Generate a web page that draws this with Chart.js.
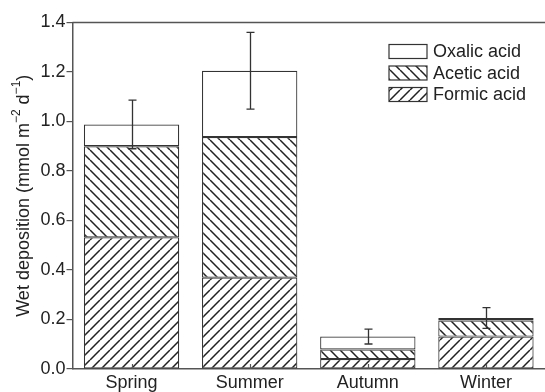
<!DOCTYPE html>
<html>
<head>
<meta charset="utf-8">
<script src="https://cdn.jsdelivr.net/npm/chart.js@4.4.1/dist/chart.umd.min.js"></script>
<style>
  html, body { margin: 0; padding: 0; background: #fff; overflow: hidden; }
  #wrap { width: 545px; height: 392px; position: relative; }
</style>
</head>
<body>
<div id="wrap"><canvas id="chart" width="545" height="392"></canvas></div>
<script>
// Seasonal wet deposition of organic acids (mmol m-2 d-1)
const seasons = ['Spring', 'Summer', 'Autumn', 'Winter'];
const formicAcid = [0.532, 0.369, 0.040, 0.131];
const aceticAcid = [0.368, 0.568, 0.039, 0.065];
const oxalicAcid = [0.088, 0.268, 0.052, 0.010];
// Error on the total deposition of each season
const totalError = [0.098, 0.155, 0.030, 0.042];
const yTicks = [0.0, 0.2, 0.4, 0.6, 0.8, 1.0, 1.2, 1.4];

const FONT = '"Liberation Sans", Arial, Helvetica, sans-serif';
const INK = '#222';
const AXIS = '#555';

// Diagonal hatch fill: '/' or '\'
function hatch(dir) {
  const s = 10;
  const c = document.createElement('canvas');
  c.width = s; c.height = s;
  const g = c.getContext('2d');
  g.fillStyle = '#fff';
  g.fillRect(0, 0, s, s);
  g.strokeStyle = '#222';
  g.lineWidth = 1.5;
  g.beginPath();
  for (let k = -1; k <= 1; k++) {
    if (dir === '/') { g.moveTo(k * s, s); g.lineTo(k * s + s, 0); }
    else { g.moveTo(k * s, 0); g.lineTo(k * s + s, s); }
  }
  g.stroke();
  return g.createPattern(c, 'repeat');
}

const ctx = document.getElementById('chart').getContext('2d');
const fills = { formic: hatch('/'), acetic: hatch('\\'), oxalic: '#fff' };

// Error bars on top of each stack, inward x ticks, top frame line
const extras = {
  id: 'extras',
  afterDatasetsDraw(chart) {
    const { ctx, chartArea, scales } = chart;
    const x = scales.x, y = scales.y;
    ctx.save();
    // inward tick marks at category centres
    ctx.strokeStyle = AXIS;
    ctx.lineWidth = 1.2;
    seasons.forEach((s, i) => {
      const px = Math.round(x.getPixelForValue(i)) + 0.5;
      ctx.beginPath();
      ctx.moveTo(px, chartArea.bottom);
      ctx.lineTo(px, chartArea.bottom - 5);
      ctx.stroke();
    });
    // error bars
    ctx.strokeStyle = '#333';
    ctx.lineWidth = 1.3;
    seasons.forEach((s, i) => {
      const total = formicAcid[i] + aceticAcid[i] + oxalicAcid[i];
      const px = Math.round(x.getPixelForValue(i)) + 0.5;
      const yHi = y.getPixelForValue(total + totalError[i]);
      const yLo = y.getPixelForValue(total - totalError[i]);
      ctx.beginPath();
      ctx.moveTo(px, yHi); ctx.lineTo(px, yLo);
      ctx.moveTo(px - 4, yHi); ctx.lineTo(px + 4, yHi);
      ctx.moveTo(px - 4, yLo); ctx.lineTo(px + 4, yLo);
      ctx.stroke();
    });
    // top frame line
    ctx.strokeStyle = AXIS;
    ctx.lineWidth = 1.5;
    ctx.beginPath();
    ctx.moveTo(chartArea.left, chartArea.top);
    ctx.lineTo(chart.width, chartArea.top);
    ctx.stroke();
    ctx.restore();
  },
  afterDraw(chart) {
    const { ctx, chartArea } = chart;
    ctx.save();
    // legend, top-right inside the plot
    const items = [
      { label: 'Oxalic acid', fill: fills.oxalic },
      { label: 'Acetic acid', fill: fills.acetic },
      { label: 'Formic acid', fill: fills.formic }
    ];
    const bx = 389, by = 44.5, bw = 38, bh = 14, step = 21.5;
    items.forEach((it, i) => {
      const top = by + i * step;
      ctx.fillStyle = it.fill;
      ctx.fillRect(bx, top, bw, bh);
      ctx.strokeStyle = '#333';
      ctx.lineWidth = 1.2;
      ctx.strokeRect(bx, top, bw, bh);
      ctx.fillStyle = INK;
      ctx.font = '18px ' + FONT;
      ctx.textBaseline = 'middle';
      ctx.textAlign = 'left';
      ctx.fillText(it.label, bx + bw + 6, top + bh / 2 + 1);
    });
    // y-axis title with superscripts
    const parts = [
      { t: 'Wet deposition (mmol m', sup: false },
      { t: '\u22122', sup: true },
      { t: ' d', sup: false },
      { t: '\u22121', sup: true },
      { t: ')', sup: false }
    ];
    const big = '18px ' + FONT, small = '12px ' + FONT;
    let total = 0;
    parts.forEach(p => { ctx.font = p.sup ? small : big; p.w = ctx.measureText(p.t).width; total += p.w; });
    ctx.translate(24, (chartArea.top + chartArea.bottom) / 2);
    ctx.rotate(-Math.PI / 2);
    ctx.fillStyle = INK;
    ctx.textBaseline = 'middle';
    ctx.textAlign = 'left';
    let cx = -total / 2;
    parts.forEach(p => {
      ctx.font = p.sup ? small : big;
      ctx.fillText(p.t, cx, p.sup ? -7 : 0);
      cx += p.w;
    });
    ctx.restore();
  }
};

new Chart(ctx, {
  type: 'bar',
  data: {
    labels: seasons,
    datasets: [
      { label: 'Formic acid', data: formicAcid, backgroundColor: fills.formic },
      { label: 'Acetic acid', data: aceticAcid, backgroundColor: fills.acetic },
      { label: 'Oxalic acid', data: oxalicAcid, backgroundColor: fills.oxalic }
    ].map(d => Object.assign(d, {
      borderColor: '#333', borderWidth: 1.2, borderSkipped: false,
      barPercentage: 0.807, categoryPercentage: 1.0
    }))
  },
  options: {
    responsive: false,
    animation: false,
    devicePixelRatio: 1,
    layout: { padding: { top: 22.5, right: -3.5, bottom: 0, left: 0 } },
    plugins: { legend: { display: false }, tooltip: { enabled: false } },
    scales: {
      x: {
        stacked: true,
        offset: true,
        grid: { display: false, drawTicks: false, tickLength: 0 },
        border: { display: true, color: AXIS, width: 1.5 },
        ticks: { color: INK, font: { family: FONT, size: 18 }, padding: 3, maxRotation: 0 },
        afterFit(scale) { scale.height = 23; }
      },
      y: {
        stacked: true,
        min: 0,
        max: 1.4,
        afterBuildTicks(scale) { scale.ticks = yTicks.map(v => ({ value: v })); },
        grid: { drawOnChartArea: false, drawTicks: true, tickLength: 6, color: AXIS, lineWidth: 1.2 },
        border: { display: true, color: AXIS, width: 1.5 },
        ticks: {
          color: INK, font: { family: FONT, size: 18 }, padding: 1,
          callback: v => Number(v).toFixed(1)
        },
        afterFit(scale) { scale.width = 72.5; }
      }
    }
  },
  plugins: [extras]
});
</script>
</body>
</html>
